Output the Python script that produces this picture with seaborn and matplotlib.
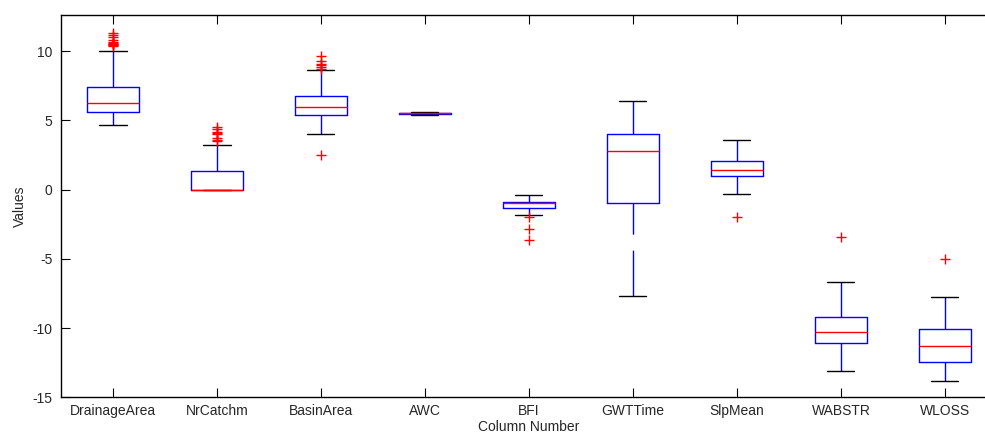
import matplotlib
matplotlib.use("Agg")
import matplotlib.pyplot as plt
import seaborn as sns
import pandas as pd

# Column names and five-number summaries of each box
columns = ["DrainageArea", "NrCatchm", "BasinArea", "AWC", "BFI",
           "GWTTime", "SlpMean", "WABSTR", "WLOSS"]
whisker_low = [4.67, 0.0, 4.02, 5.42, -1.86, -7.69, -0.32, -13.08, -13.80]
q1 = [5.63, 0.0, 5.39, 5.48, -1.30, -0.97, 1.01, -11.05, -12.43]
median = [6.29, 0.0, 5.97, 5.51, -0.94, 2.79, 1.44, -10.26, -11.30]
q3 = [7.41, 1.37, 6.76, 5.56, -0.90, 4.00, 2.10, -9.20, -10.07]
whisker_high = [9.99, 3.22, 8.62, 5.64, -0.41, 6.38, 3.61, -6.68, -7.76]

# Points beyond the whiskers
outliers = {
    "DrainageArea": [11.35, 11.2, 11.0, 10.8, 10.7, 10.62, 10.56, 10.5,
                     10.45, 10.42, 10.38],
    "NrCatchm": [4.55, 4.4, 4.2, 4.1, 4.0, 3.75, 3.6, 3.5],
    "BasinArea": [9.65, 9.3, 9.1, 9.0, 8.9, 8.75, 2.5],
    "AWC": [],
    "BFI": [-1.98, -2.87, -3.66],
    "GWTTime": [],
    "SlpMean": [-2.0],
    "WABSTR": [-3.42],
    "WLOSS": [-5.01],
}

sns.set_style("ticks")
plt.rcParams["font.family"] = ["Liberation Sans", "DejaVu Sans"]
plt.rcParams["axes.unicode_minus"] = False

fig = plt.figure(figsize=(9.85, 4.34), dpi=100)
# axes runs past the right edge of the figure
ax = fig.add_axes([61 / 985, 1 - 397.3 / 434, (996.9 - 61) / 985, (397.3 - 15.3) / 434])

positions = list(range(1, len(columns) + 1))
stats = [
    dict(label=c, whislo=wl, q1=a, med=m, q3=b, whishi=wh, fliers=[])
    for c, wl, a, m, b, wh in zip(columns, whisker_low, q1, median, q3, whisker_high)
]
art = ax.bxp(
    stats, positions=positions, widths=0.5, capwidths=0.26,
    showfliers=False, manage_ticks=False,
    boxprops=dict(color="#0000ff", linewidth=1.0),
    medianprops=dict(color="#ff0000", linewidth=1.0),
    whiskerprops=dict(color="#0000ff", linewidth=1.0),
    capprops=dict(color="black", linewidth=1.0),
)
# long-dash whiskers, drawn outward from the cap
for w in art["whiskers"]:
    w.set_ydata(w.get_ydata()[::-1])
    w.set_linestyle((0, (33, 11.5)))

out_df = pd.DataFrame(
    [(positions[columns.index(c)], v) for c, vals in outliers.items() for v in vals],
    columns=["pos", "value"],
)
sns.scatterplot(data=out_df, x="pos", y="value", marker="+", color="#ff0000",
                s=48, linewidth=1.0, ax=ax, legend=False, zorder=3)

text_color = "#262626"
ax.set_xlim(0.5, 9.5)
ax.set_ylim(-15, 12.6)
ax.set_xticks(positions)
ax.set_xticklabels(columns)
ax.set_yticks([-15, -10, -5, 0, 5, 10])
ax.set_yticklabels(["-15", "-10", "-5", "0", "5", "10"])
ax.tick_params(direction="in", length=6.5, width=0.8, top=True, right=False,
               labelsize=10, colors="black", labelcolor=text_color)
ax.tick_params(axis="x", pad=5)
ax.tick_params(axis="y", pad=6)
for side in ["left", "bottom", "top"]:
    ax.spines[side].set_visible(True)
    ax.spines[side].set_color("black")
    ax.spines[side].set_linewidth(1.0)
ax.spines["right"].set_visible(False)

ax.set_xlabel("Column Number", fontsize=10, labelpad=1.5, color=text_color)
ax.set_ylabel("Values", fontsize=10, labelpad=4, color=text_color)

fig.savefig("out.png", dpi=100)
